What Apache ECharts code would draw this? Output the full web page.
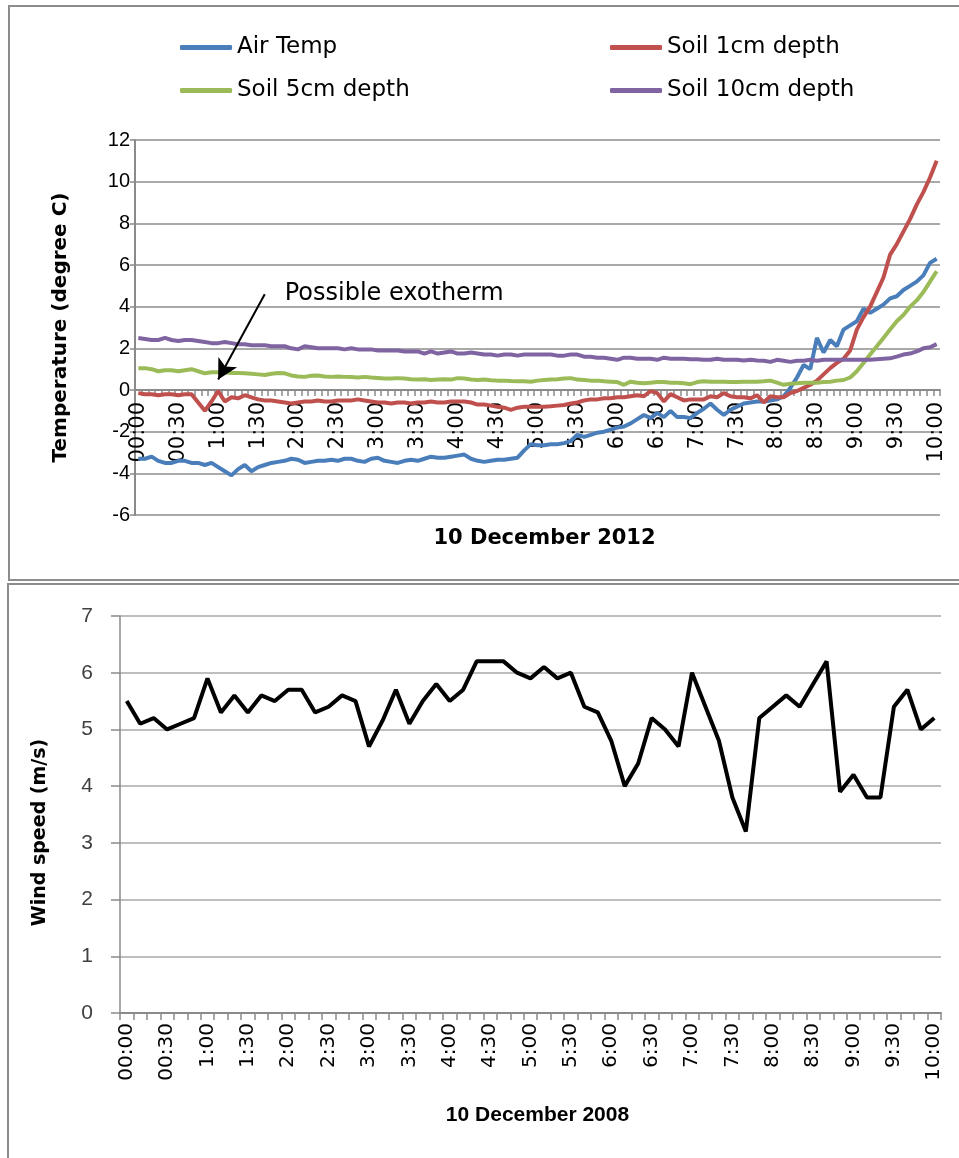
<!DOCTYPE html>
<html lang="en">
<head>
    <meta charset="utf-8">
    <title>Soil temperature and wind speed</title>
    <script src="https://cdn.jsdelivr.net/npm/echarts@6.0.0/dist/echarts.min.js"></script>
    <style>
        html, body { margin: 0; padding: 0; background: #fff; }
        #chart { width: 959px; height: 1158px; }
    </style>
</head>
<body>
<div id="chart"></div>
<script type="text/javascript">
    // 5 minute readings, 00:00 - 10:00
    var airTemp = [
        -3.3,-3.3,-3.2,-3.4,-3.5,-3.5,-3.4,-3.4,-3.5,-3.5,-3.6,-3.5,
        -3.7,-3.9,-4.1,-3.8,-3.6,-3.9,-3.7,-3.6,-3.5,-3.45,-3.4,-3.3,
        -3.35,-3.5,-3.45,-3.4,-3.4,-3.35,-3.4,-3.3,-3.3,-3.4,-3.45,-3.3,
        -3.25,-3.4,-3.45,-3.5,-3.4,-3.35,-3.4,-3.3,-3.2,-3.25,-3.25,-3.2,
        -3.15,-3.1,-3.3,-3.4,-3.45,-3.4,-3.35,-3.35,-3.3,-3.25,-2.9,-2.6,
        -2.65,-2.65,-2.6,-2.6,-2.55,-2.45,-2.15,-2.25,-2.15,-2.05,-2.0,-1.9,
        -1.8,-1.75,-1.6,-1.4,-1.2,-1.35,-1.1,-1.3,-1.0,-1.3,-1.3,-1.35,
        -1.1,-0.9,-0.65,-0.95,-1.2,-0.95,-0.8,-0.65,-0.6,-0.55,-0.55,-0.5,
        -0.45,-0.3,0.1,0.6,1.2,1.0,2.5,1.8,2.4,2.1,2.9,3.1,
        3.3,3.9,3.7,3.9,4.1,4.4,4.5,4.8,5.0,5.2,5.5,6.1,
        6.3
    ];
    var soil1cm = [
        -0.15,-0.2,-0.2,-0.25,-0.2,-0.2,-0.25,-0.2,-0.2,-0.6,-1.0,-0.55,
        -0.05,-0.55,-0.35,-0.4,-0.25,-0.35,-0.45,-0.5,-0.5,-0.55,-0.6,-0.65,
        -0.6,-0.55,-0.55,-0.5,-0.55,-0.55,-0.5,-0.5,-0.5,-0.45,-0.5,-0.55,
        -0.6,-0.6,-0.65,-0.6,-0.6,-0.65,-0.6,-0.6,-0.55,-0.6,-0.6,-0.55,
        -0.55,-0.55,-0.6,-0.7,-0.7,-0.75,-0.8,-0.85,-0.95,-0.85,-0.8,-0.8,
        -0.8,-0.8,-0.78,-0.75,-0.72,-0.65,-0.6,-0.5,-0.45,-0.45,-0.4,-0.4,
        -0.35,-0.35,-0.3,-0.25,-0.3,-0.05,-0.15,-0.55,-0.2,-0.35,-0.5,-0.45,
        -0.45,-0.45,-0.3,-0.35,-0.15,-0.3,-0.35,-0.35,-0.4,-0.25,-0.6,-0.3,
        -0.35,-0.35,-0.15,-0.05,0.1,0.25,0.45,0.75,1.05,1.3,1.5,1.9,
        2.9,3.5,4.0,4.7,5.4,6.5,7.0,7.6,8.2,8.9,9.5,10.2,
        11.0
    ];
    var soil5cm = [
        1.05,1.05,1.0,0.9,0.95,0.95,0.9,0.95,1.0,0.9,0.8,0.85,
        0.85,0.85,0.82,0.82,0.8,0.78,0.75,0.72,0.78,0.82,0.8,0.7,
        0.65,0.63,0.68,0.7,0.65,0.63,0.65,0.63,0.62,0.6,0.63,0.6,
        0.58,0.55,0.55,0.57,0.55,0.52,0.5,0.52,0.48,0.5,0.52,0.5,
        0.57,0.55,0.5,0.48,0.5,0.47,0.45,0.45,0.43,0.42,0.42,0.4,
        0.45,0.48,0.5,0.52,0.55,0.57,0.5,0.48,0.45,0.45,0.42,0.4,
        0.38,0.25,0.4,0.35,0.32,0.35,0.38,0.38,0.35,0.35,0.32,0.28,
        0.38,0.42,0.4,0.4,0.4,0.38,0.38,0.4,0.4,0.4,0.42,0.45,
        0.35,0.25,0.3,0.32,0.35,0.35,0.35,0.38,0.4,0.45,0.48,0.6,
        0.9,1.3,1.7,2.1,2.5,2.9,3.3,3.6,4.0,4.3,4.7,5.2,
        5.7
    ];
    var soil10cm = [
        2.5,2.45,2.4,2.4,2.5,2.4,2.35,2.4,2.4,2.35,2.3,2.25,
        2.25,2.3,2.25,2.2,2.2,2.15,2.15,2.15,2.1,2.1,2.1,2.0,
        1.95,2.1,2.05,2.0,2.0,2.0,2.0,1.95,2.0,1.95,1.95,1.95,
        1.9,1.9,1.9,1.9,1.85,1.85,1.85,1.75,1.85,1.75,1.8,1.85,
        1.75,1.75,1.8,1.75,1.7,1.7,1.65,1.7,1.7,1.65,1.7,1.7,
        1.7,1.7,1.7,1.65,1.65,1.7,1.7,1.6,1.6,1.55,1.55,1.5,
        1.45,1.55,1.55,1.5,1.5,1.5,1.45,1.55,1.5,1.5,1.5,1.48,
        1.48,1.45,1.45,1.5,1.45,1.45,1.45,1.42,1.45,1.42,1.4,1.35,
        1.45,1.4,1.35,1.4,1.4,1.45,1.4,1.45,1.45,1.45,1.45,1.45,
        1.45,1.45,1.45,1.48,1.5,1.52,1.6,1.7,1.75,1.85,2.0,2.05,
        2.2
    ];
    // 10 minute readings, 00:00 - 10:00
    var windSpeed = [
        5.5,5.1,5.2,5.0,5.1,5.2,5.9,5.3,5.6,5.3,
        5.6,5.5,5.7,5.7,5.3,5.4,5.6,5.5,4.7,5.15,
        5.7,5.1,5.5,5.8,5.5,5.7,6.2,6.2,6.2,6.0,
        5.9,6.1,5.9,6.0,5.4,5.3,4.8,4.0,4.4,5.2,
        5.0,4.7,6.0,5.4,4.8,3.8,3.2,5.2,5.4,5.6,
        5.4,5.8,6.2,3.9,4.2,3.8,3.8,5.4,5.7,5.0,
        5.2
    ];
    var tempTicks = [-6, -4, -2, 0, 2, 4, 6, 8, 10, 12];
    var windTicks = [0, 1, 2, 3, 4, 5, 6, 7];

    // clock labels as in the sheet: 00:00, 00:30, 1:00 ...
    function clock(min) {
        var h = Math.floor(min / 60), m = min % 60;
        return (h === 0 ? '00' : String(h)) + ':' + (m < 10 ? '0' + m : m);
    }
    var tempTimes = airTemp.map(function (v, i) { return clock(i * 5); });
    var windTimes = windSpeed.map(function (v, i) { return clock(i * 10); });

    var FONT = 'DejaVu Sans';
    var GRID_COLOR = '#a9a9a9';
    var AXIS_COLOR = '#8a8a8a';

    // top plot box; the time axis is drawn across it at 0 degrees
    var topGrid = { left: 135, top: 140, width: 805, height: 375 };
    var tMin = tempTicks[0], tMax = tempTicks[tempTicks.length - 1];
    var zeroOffset = -topGrid.height * (0 - tMin) / (tMax - tMin);

    var myChart = echarts.init(document.getElementById('chart'));

    function lineSeries(name, data, color) {
        return {
            name: name,
            type: 'line',
            xAxisIndex: 0,
            yAxisIndex: 0,
            data: data,
            showSymbol: false,
            symbol: 'none',
            lineStyle: { color: color, width: 4 },
            itemStyle: { color: color }
        };
    }

    var series = [
        lineSeries('Air Temp', airTemp, '#4a7ebb'),
        lineSeries('Soil 1cm depth', soil1cm, '#c0504d'),
        lineSeries('Soil 5cm depth', soil5cm, '#9bbb59'),
        lineSeries('Soil 10cm depth', soil10cm, '#8064a2'),
        {
            name: 'Wind speed',
            type: 'line',
            xAxisIndex: 1,
            yAxisIndex: 1,
            data: windSpeed,
            showSymbol: false,
            symbol: 'none',
            lineStyle: { color: '#000', width: 4 },
            itemStyle: { color: '#000' }
        }
    ];

    // annotation arrow + text on the soil 1cm curve
    series[1].markLine = {
        silent: true,
        symbol: ['none', 'arrow'],
        symbolSize: [16, 20],
        label: { show: false },
        lineStyle: { color: '#000', width: 2, type: 'solid' },
        data: [[{ coord: [tempTimes[19], 4.6] }, { coord: [tempTimes[12], 0.5] }]]
    };
    series[1].markPoint = {
        silent: true,
        symbol: 'circle',
        symbolSize: 0,
        data: [{
            coord: [tempTimes[19], 4.6],
            label: {
                show: true,
                position: 'right',
                distance: 20,
                formatter: 'Possible exotherm',
                color: '#000',
                fontFamily: FONT,
                fontSize: 24
            }
        }]
    };

    var legendText = { color: '#000', fontFamily: FONT, fontSize: 23 };

    myChart.setOption({
        animation: false,
        backgroundColor: '#fff',
        graphic: [
            { type: 'rect', shape: { x: 9, y: 6, width: 1000, height: 574 },
              style: { fill: null, stroke: '#8c8c8c', lineWidth: 2 }, silent: true },
            { type: 'rect', shape: { x: 8, y: 584, width: 1000, height: 620 },
              style: { fill: null, stroke: '#8c8c8c', lineWidth: 2 }, silent: true }
        ],
        legend: [{
            orient: 'vertical',
            left: 175,
            top: 31,
            itemWidth: 52,
            itemHeight: 5,
            itemGap: 20,
            icon: 'roundRect',
            textStyle: legendText,
            data: ['Air Temp', 'Soil 5cm depth']
        }, {
            orient: 'vertical',
            left: 605,
            top: 31,
            itemWidth: 52,
            itemHeight: 5,
            itemGap: 20,
            icon: 'roundRect',
            textStyle: legendText,
            data: ['Soil 1cm depth', 'Soil 10cm depth']
        }],
        grid: [
            { left: topGrid.left, top: topGrid.top, width: topGrid.width, height: topGrid.height,
              containLabel: false, outerBoundsMode: 'none' },
            { left: 120, top: 616, width: 821, height: 397, containLabel: false, outerBoundsMode: 'none' }
        ],
        xAxis: [{
            gridIndex: 0,
            type: 'category',
            data: tempTimes,
            boundaryGap: true,
            position: 'bottom',
            offset: zeroOffset,
            name: '10 December 2012',
            nameLocation: 'middle',
            nameGap: 138,
            nameTextStyle: { fontFamily: FONT, fontWeight: 'bold', fontSize: 21, color: '#000', padding: [0, 0, 0, 14] },
            axisLine: { onZero: false, lineStyle: { color: AXIS_COLOR, width: 2 } },
            axisTick: { show: true, interval: 0, length: 6, lineStyle: { color: AXIS_COLOR, width: 1.5 } },
            axisLabel: { interval: 5, rotate: 90, margin: 12, fontFamily: FONT, fontSize: 21, color: '#000' },
            splitLine: { show: false }
        }, {
            gridIndex: 1,
            type: 'category',
            data: windTimes,
            boundaryGap: true,
            name: '10 December 2008',
            nameLocation: 'middle',
            nameGap: 92,
            nameTextStyle: { fontFamily: 'Liberation Sans', fontWeight: 'bold', fontSize: 21, color: '#000', padding: [0, 0, 0, 14] },
            axisLine: { lineStyle: { color: AXIS_COLOR, width: 2 } },
            axisTick: { show: true, interval: 0, length: 7, lineStyle: { color: AXIS_COLOR, width: 1.5 } },
            axisLabel: { interval: 2, rotate: 90, margin: 10, fontFamily: FONT, fontSize: 20, color: '#000' },
            splitLine: { show: false }
        }],
        yAxis: [{
            gridIndex: 0,
            type: 'value',
            min: tMin,
            max: tMax,
            interval: 2,
            name: 'Temperature (degree C)',
            nameLocation: 'middle',
            nameRotate: 90,
            nameGap: 64,
            nameTextStyle: { fontFamily: FONT, fontWeight: 'bold', fontSize: 20, color: '#000' },
            axisLine: { show: true, lineStyle: { color: AXIS_COLOR, width: 2 } },
            axisTick: { show: true, length: 5, lineStyle: { color: AXIS_COLOR, width: 1.5 } },
            axisLabel: { margin: 5, fontFamily: 'Liberation Sans', fontSize: 20, color: '#000' },
            splitLine: { show: true, lineStyle: { color: GRID_COLOR, width: 2 } }
        }, {
            gridIndex: 1,
            type: 'value',
            min: windTicks[0],
            max: windTicks[windTicks.length - 1],
            interval: 1,
            name: 'Wind speed (m/s)',
            nameLocation: 'middle',
            nameRotate: 90,
            nameGap: 70,
            nameTextStyle: { fontFamily: FONT, fontWeight: 'bold', fontSize: 19, color: '#000', padding: [0, 36, 0, 0] },
            axisLine: { show: true, lineStyle: { color: AXIS_COLOR, width: 1.5 } },
            axisTick: { show: true, length: 9, lineStyle: { color: AXIS_COLOR, width: 1.5 } },
            axisLabel: { margin: 27, fontFamily: 'Liberation Sans', fontSize: 21, color: '#404040' },
            splitLine: { show: true, lineStyle: { color: GRID_COLOR, width: 1.5 } }
        }],
        series: series
    });
</script>
</body>
</html>
